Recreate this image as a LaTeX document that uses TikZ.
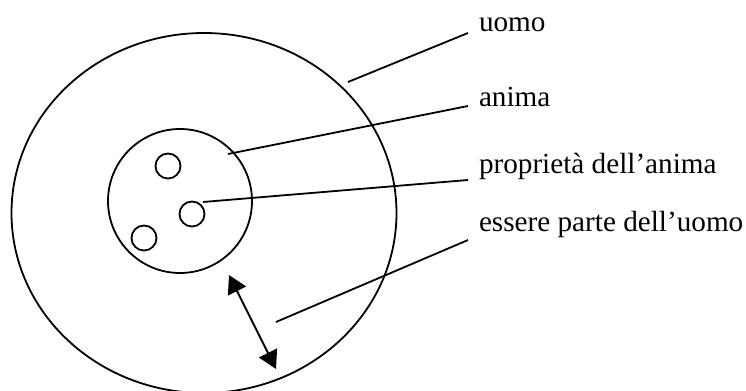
\documentclass[tikz,border=0pt]{standalone}
\usepackage{fontspec}
\setmainfont{Liberation Serif}
\usetikzlibrary{arrows.meta,shapes.geometric}
\tikzset{
  ring/.style  = {draw, line width=0.9pt, inner sep=0pt, outer sep=0pt},
  lbl/.style   = {anchor=base west, inner xsep=5.5pt, inner ysep=0pt, outer sep=0pt,
                  font=\fontsize{14.6}{17}\selectfont},
  ln/.style    = {line width=0.9pt},
  dbl/.style   = {{Triangle[length=9pt,width=10pt]}-{Triangle[length=9pt,width=10pt]},
                  line width=0.9pt},
}

\begin{document}
\begin{tikzpicture}[x=0.5pt, y=-0.5pt]
  \useasboundingbox (0,0) rectangle (746,391);
  % circles
  \node[ring, ellipse, minimum width=192.5pt, minimum height=180pt] (uomo) at (204,213) {};
  \node[ring, circle, minimum size=72pt]   (anima) at (180,201) {};
  \node[ring, circle, minimum size=12.5pt] (p1) at (168,166) {};
  \node[ring, circle, minimum size=12.5pt] (p2) at (192,214) {};
  \node[ring, circle, minimum size=12.5pt] (p3) at (144,238) {};
  % labels
  \node[lbl] (t-uomo)  at (468,32)  {uomo};
  \node[lbl] (t-anima) at (468,106) {anima};
  \node[lbl] (t-prop)  at (468,173) {proprietà dell’anima};
  \node[lbl] (t-parte) at (468,231) {essere parte dell’uomo};
  % free ends
  \coordinate (c-uomo)  at (348,82);
  \coordinate (c-anima) at (228,154);
  \coordinate (c-prop)  at (203,202);
  \coordinate (c-parte) at (276,322);
  \coordinate (a1) at (229,275);
  \coordinate (a2) at (276,369);
  \draw[ln] (c-uomo)  -- ([yshift=-0.5pt]t-uomo.base west);
  \draw[ln] (c-anima) -- (t-anima.base west);
  \draw[ln] (c-prop)  -- ([yshift=-3.5pt]t-prop.base west);
  \draw[ln] (c-parte) -- ([yshift=-4.5pt]t-parte.base west);
  \draw[dbl] (a1) -- (a2);
\end{tikzpicture}
\end{document}
